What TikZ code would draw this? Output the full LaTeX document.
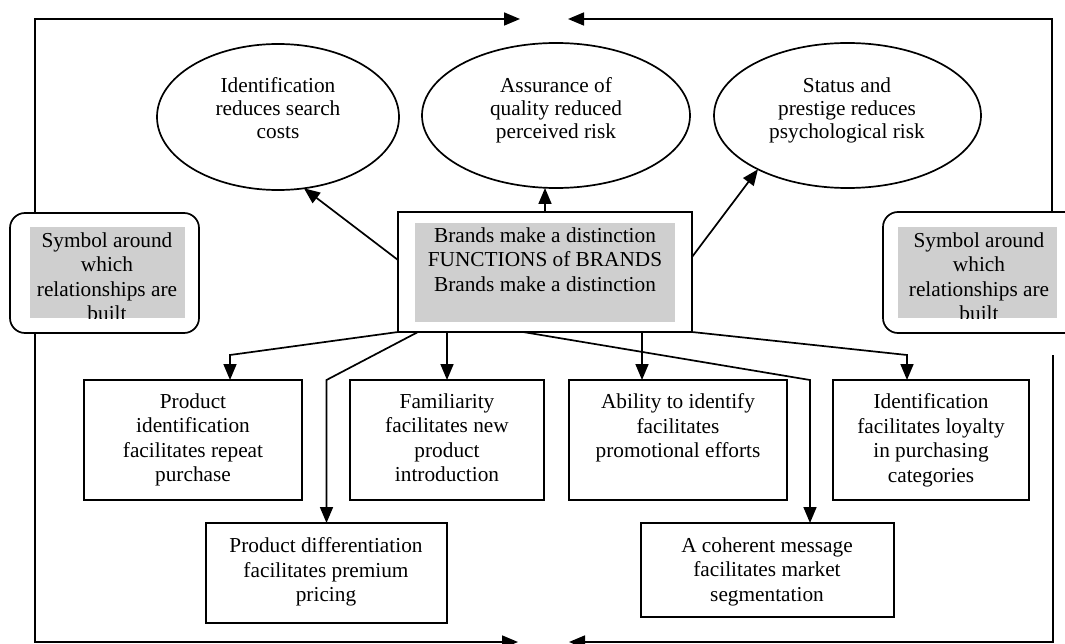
\documentclass[tikz,border=0pt]{standalone}
\usepackage{fontspec}
\setmainfont{Liberation Serif}
\usetikzlibrary{arrows.meta,shapes.geometric}
\begin{document}
\begin{tikzpicture}[x=1pt,y=-1pt,
  line width=1.7pt,
  every node/.style={inner sep=0pt, outer sep=0pt},
  ell/.style={draw, ellipse},
  fbox/.style={draw, rectangle},
  sbox/.style={draw, rectangle, rounded corners=15pt},
  txt/.style={align=center, anchor=north, font=\fontsize{21.3}{24.5}\selectfont},
  etxt/.style={align=center, anchor=north, font=\fontsize{21.3}{23}\selectfont},
  shade/.style={fill=gray!38, draw=none},
  arr/.style={-{Triangle[length=16pt,width=13pt]}}
]
\useasboundingbox (0,0) rectangle (1065,644);

% --- ellipses: the three risk-reducing functions
\node[ell, minimum width=242pt, minimum height=146pt] (e1) at (278,117) {};
\node[etxt] (e1t) at (278,77.7) {Identification\\reduces search\\costs};
\node[ell, minimum width=268pt, minimum height=145pt] (e2) at (556,115.5) {};
\node[etxt] (e2t) at (556,77.7) {Assurance of\\quality reduced\\perceived risk};
\node[ell, minimum width=267pt, minimum height=145pt] (e3) at (847.5,115.5) {};
\node[etxt] (e3t) at (847,77.7) {Status and\\prestige reduces\\psychological risk};

% --- central box
\node[fbox, minimum width=294pt, minimum height=120pt] (main) at (545,272) {};
\fill[shade] (415,223) rectangle (675,322);
\node[txt] (maint) at (545,227.7) {Brands make a distinction\\FUNCTIONS of BRANDS\\Brands make a distinction};

% --- side symbol boxes (text clipped by the shaded panel)
\node[sbox, minimum width=189pt, minimum height=120pt] (symL) at (104.5,273) {};
\begin{scope}
  \clip (30,227) rectangle (185,318);
  \fill[shade] (30,227) rectangle (185,318);
  \node[txt] (symLt) at (107,232.7) {Symbol around\\which\\relationships are\\built};
\end{scope}
\node[sbox, minimum width=197pt, minimum height=121pt] (symR) at (981.5,272.5) {};
\begin{scope}
  \clip (898,227) rectangle (1057,318);
  \fill[shade] (898,227) rectangle (1057,318);
  \node[txt] (symRt) at (979,232.7) {Symbol around\\which\\relationships are\\built};
\end{scope}

% --- lower row of function boxes
\node[fbox, minimum width=218pt, minimum height=120pt] (pid) at (193,440) {};
\node[txt] (pidt) at (193,393.7) {Product\\identification\\facilitates repeat\\purchase};
\node[fbox, minimum width=194pt, minimum height=120pt] (fam) at (447,440) {};
\node[txt] (famt) at (447,393.7) {Familiarity\\facilitates new\\product\\introduction};
\node[fbox, minimum width=218pt, minimum height=120pt] (abl) at (678,440) {};
\node[txt] (ablt) at (678,393.7) {Ability to identify\\facilitates\\promotional efforts};
\node[fbox, minimum width=196pt, minimum height=120pt] (idl) at (931,440) {};
\node[txt] (idlt) at (931,393.7) {Identification\\facilitates loyalty\\in purchasing\\categories};
\node[fbox, minimum width=241pt, minimum height=100pt] (pdiff) at (326.5,573) {};
\node[txt] (pdifft) at (326,537.7) {Product differentiation\\facilitates premium\\pricing};
\node[fbox, minimum width=253pt, minimum height=94pt] (coh) at (767.5,570) {};
\node[txt] (coht) at (767,537.7) {A coherent message\\facilitates market\\segmentation};

% --- arrows from the central box
\draw[arr] ([yshift=12pt]main.west) -- (e1.290);
\draw[arr] (main.north) -- (main.north |- e2.south);
\draw[arr] ([yshift=15pt]main.east) -- (e3.211);

\coordinate (k1) at (230,355);
\coordinate (k4) at (642,380);
\coordinate (k5) at (810,380);
\coordinate (k6) at (907,355);
\draw[arr] (main.south west) -- (k1) -- (k1 |- pid.north);
\draw[arr] ([xshift=20pt]main.south west) -- (pdiff.north |- fam.north) -- (pdiff.north);
\draw[arr] (main.south -| fam.north) -- (fam.north);
\draw[arr] (k4 |- main.south) -- (k4);
\draw[arr] ([xshift=125pt]main.south west) -- (k5) -- (k5 |- coh.north);
\draw[arr] (main.south east) -- (k6) -- (k6 |- idl.north);

% --- outer feedback frame
\coordinate (cTL) at (35,19);
\coordinate (cTR) at (1052,19);
\coordinate (cBL) at (35,642);
\coordinate (cBR) at (1053,642);
\coordinate (tipTL) at (520,19);
\coordinate (tipTR) at (568,19);
\coordinate (tipBL) at (518,642);
\coordinate (tipBR) at (569,642);
\coordinate (rStart) at (1053,355);
\draw[arr] (symL.north -| cTL) -- (cTL) -- (tipTL);
\draw[arr] (symR.north -| cTR) -- (cTR) -- (tipTR);
\draw[arr] (symL.south -| cBL) -- (cBL) -- (tipBL);
\draw[arr] (rStart) -- (cBR) -- (tipBR);
\end{tikzpicture}
\end{document}
